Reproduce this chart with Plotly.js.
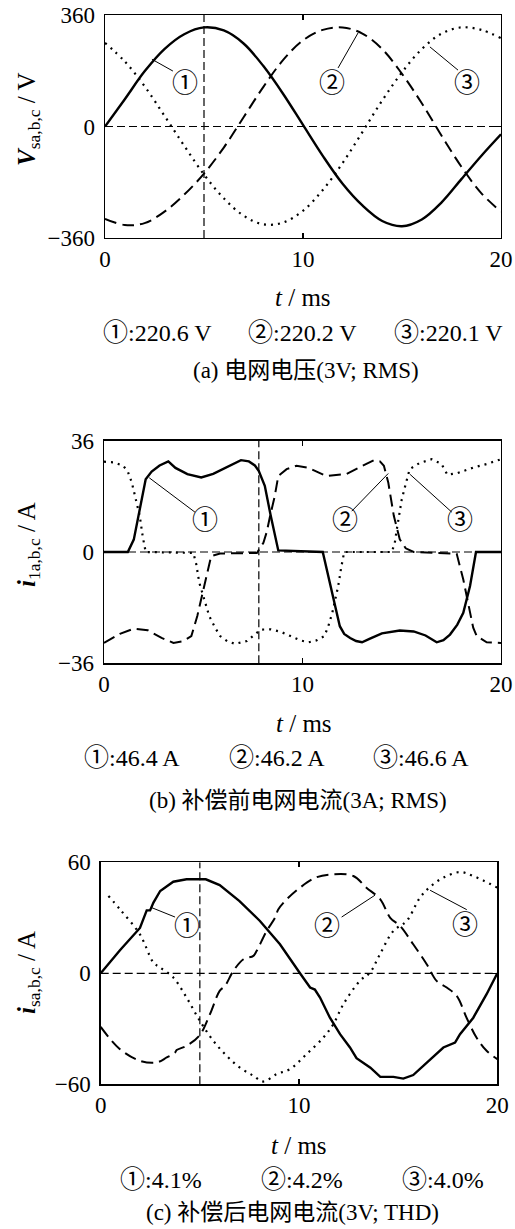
<!DOCTYPE html>
<html>
<head>
<meta charset="utf-8">
<script src="https://cdn.plot.ly/plotly-3.0.1.min.js"></script>
<style>html,body{margin:0;padding:0;background:#fff;}#chart{width:515px;height:1229px;}</style>
</head>
<body>
<div id="chart"></div>
<script>
// ---------- Panel (a): grid voltage ----------
const tA = [0,1,2,3,4,5,6,7,8,9,10,11,12,13,14,15,16,17,18,19,20];
const vA1 = [0,88,178,250,298,320,310,268,195,105,5,-95,-185,-255,-305,-322,-300,-245,-170,-95,-25];
const vA2 = [-298,-318,-312,-275,-220,-152,-68,30,128,215,278,312,320,300,250,170,75,-30,-130,-215,-275];
const vA3 = [270,210,130,35,-62,-155,-232,-288,-316,-310,-272,-205,-118,-18,84,175,250,300,320,312,285];

// ---------- Panel (b): grid current before compensation ----------
const tB1 = [0,1.2,1.5,1.7,1.9,2.1,2.4,2.8,3.24,3.6,4.2,4.9,5.5,6.2,6.9,7.3,7.6,7.8,8.1,8.4,8.78,11.02,11.3,11.55,11.88,12.1,12.4,12.7,13.0,13.4,14.0,14.9,15.6,16.2,16.76,17.1,17.43,17.8,18.1,18.44,18.74,20];
const iB1 = [0,0,4,10.6,17,23.5,26,28,29.3,27.2,25.2,24.1,25.3,27.6,29.7,29.3,28.0,26.2,21.4,11.7,0.5,0,-8,-15.3,-24,-26.5,-27.8,-28.8,-29.2,-28,-26.3,-25.4,-25.7,-27,-29.2,-28.5,-26.7,-23.5,-19.7,-11,0,0];
const tB2 = [0,0.8,1.5,2.2,2.9,3.5,4.0,4.4,4.7,5.0,5.4,5.85,7.7,8.03,8.2,8.37,8.6,8.78,9.2,9.7,10.3,11.2,12.2,13.0,13.6,13.9,14.1,14.32,14.45,14.6,14.9,15.2,15.6,17.77,18.1,18.44,18.6,18.78,19.28,20];
const iB2 = [-29.4,-26.5,-24.8,-25.3,-27.8,-29.4,-28.8,-27.2,-20.7,-12.1,-1.3,-0.5,-0.3,3,6.5,11.7,18,24.6,26.8,27.9,27.2,24.6,25.2,27.8,29.7,29.3,27.9,22.5,17,11.7,4.1,1.2,0,-0.6,-8.9,-19.7,-24.5,-27.2,-29.2,-29.4];
const tB3 = [0,0.5,0.97,1.2,1.4,1.6,1.8,1.95,2.1,4.5,4.65,4.8,5.05,5.3,5.6,5.85,6.2,6.6,7.2,7.9,8.4,8.9,9.4,9.9,10.3,10.7,11.1,11.3,11.5,11.65,11.8,11.95,12.1,14.5,14.65,14.75,14.9,15.0,15.2,15.4,15.9,16.5,17.0,17.3,17.8,18.6,19.3,20];
const iB3 = [29.2,29.0,27.9,26,22.5,17,11.7,5,0,-0.3,-4,-9.9,-15,-20.7,-24.5,-27.2,-28.8,-29.7,-28.8,-25.1,-25,-25.8,-27.2,-28.6,-29.2,-28.6,-27.2,-24,-19.7,-15,-11,-5,0,0,3,7.3,12.5,17,22,26.8,28.8,30,28.5,25,25.5,27.3,28.5,30];

// ---------- Panel (c): grid current after compensation ----------
const tC1 = [0,0.97,1.98,2.32,2.49,2.66,3.0,3.66,4.33,5.3,6.0,7.0,8.03,9.04,10.05,10.56,10.8,11.06,11.56,12.07,12.57,12.9,13.6,14.1,14.76,15.26,15.76,16.27,16.77,17.28,17.87,18.12,18.79,19.46,20];
const iC1 = [0,12.5,24.5,34,34,38.2,44.5,49.5,50.8,50.8,47.7,39,28.3,15.7,0,-7.7,-8.8,-13.1,-24,-32.9,-40.1,-45.9,-51,-56,-56,-56.9,-55,-50,-44.6,-40.1,-37.4,-32.9,-24,-11.3,0];
const tC2 = [0,0.97,1.98,2.82,3.33,3.75,3.83,4.33,4.97,5.51,6.0,6.27,6.69,7.2,7.7,7.86,8.37,8.79,8.96,9.38,10.05,10.9,11.73,12.74,13.4,14.1,14.6,15.1,15.76,16.44,16.94,17.45,17.95,18.45,18.95,19.46,20];
const iC2 = [-29,-41,-47.3,-48.2,-45.5,-42.8,-41.5,-39.2,-33.8,-22.1,-9.5,-6.8,1.3,7.6,9.4,12,22.9,30,34.6,40,46.3,52,53.5,52.6,46.3,40,30,25.6,15.7,4.9,-4.1,-7.7,-12.2,-24,-34.7,-41.9,-46.4];
const tC3 = [0.39,0.97,1.98,2.66,3.0,3.66,4.33,5.0,5.68,6.35,7.02,7.7,8.2,8.87,9.54,10.38,11.23,11.73,12.24,13.07,13.58,14.08,14.76,15.43,16.1,16.6,17.28,18.12,18.79,20];
const iC3 = [41.8,34.6,21,5.8,3.1,-2.3,-13.1,-25.7,-36.5,-44.6,-51,-55.4,-58.5,-54.5,-51.8,-43.7,-34.7,-27.5,-16.7,-4.1,0.4,10.3,22.9,28.3,40.9,46.6,51.7,54.7,52.6,46.3];

// ---------- Labels ----------
const xTicks = [0,10,20];
const yRanges = [[-360,360],[-36,36],[-60,60]];
const cursorT = [5,7.8,5];
const yTitles = ['<b><i>V</i></b><sub>sa,b,c</sub> / V','<b><i>i</i></b><sub>1a,b,c</sub> / A','<b><i>i</i></b><sub>sa,b,c</sub> / A'];
const xTitle = '<i>t</i> / ms';
const marks = ['①','②','③'];
const valuesA = ['220.6 V','220.2 V','220.1 V'];
const valuesB = ['46.4 A','46.2 A','46.6 A'];
const valuesC = ['4.1%','4.2%','4.0%'];
const captions = ['(a) 电网电压(3V; RMS)','(b) 补偿前电网电流(3A; RMS)','(c) 补偿后电网电流(3V; THD)'];

// label anchor points [t, value] for circle text and leader lines per panel
const labA = [[4.04,150,2.37,217,3.43,179],[11.46,150,12.78,302,11.77,189],[18.28,150,16.41,257,17.83,182]];
const labB = [[5.09,11.1,2.28,24.0,4.58,12.9],[12.14,11.2,14.32,25.4,12.48,13.2],[17.93,11.2,15.42,25.1,17.52,12.9]];
const labC = [[4.34,26.9,2.57,35.5,3.75,30.4],[11.40,27,13.83,42.2,12.15,30.4],[18.37,27.7,16.61,44.9,18.46,34.4]];

// ---------- Build ----------
const W = 515, H = 1229;
const px = x => x / W;
const py = y => 1 - y / H;
const FONT = 'Liberation Serif, Noto Sans CJK SC, serif';
const MARKFONT = 'Noto Sans CJK SC, DejaVu Sans, sans-serif';

const styles = [
  {color:'black', width:2.4, dash:'solid'},
  {color:'black', width:2, dash:'12px,6px'},
  {color:'black', width:2.2, dash:'2px,5px'}
];

function tr(x, y, i, ax, shape) {
  return {x:x, y:y, type:'scatter', mode:'lines', line:Object.assign({shape: shape||'linear'}, styles[i]),
    xaxis:'x'+(ax===1?'':ax), yaxis:'y'+(ax===1?'':ax), hoverinfo:'skip'};
}

const data = [
  tr(tA, vA1, 0, 1, 'spline'), tr(tA, vA2, 1, 1, 'spline'), tr(tA, vA3, 2, 1, 'spline'),
  tr(tB1, iB1, 0, 2), tr(tB2, iB2, 1, 2), tr(tB3, iB3, 2, 2),
  tr(tC1, iC1, 0, 3), tr(tC2, iC2, 1, 3, 'spline'), tr(tC3, iC3, 2, 3, 'spline')
];

// panel geometry in pixels: [left, right, top, bottom]
const geo = [[105,501,15,238],[104,501,440.7,663.3],[100.7,497.3,862.3,1084.3]];

const layout = {
  width: W, height: H,
  margin: {l:0, r:0, t:0, b:0},
  paper_bgcolor: 'white', plot_bgcolor: 'white',
  showlegend: false,
  font: {family: FONT, size: 23, color: 'black'},
  shapes: [], annotations: []
};

geo.forEach((g, k) => {
  const n = k + 1;
  const xs = n === 1 ? '' : String(n);
  layout['xaxis' + xs] = {
    domain: [px(g[0]), px(g[1])], anchor: 'y' + xs, range: [0, 20],
    tickvals: xTicks, ticktext: xTicks.map(String),
    showline: true, linecolor: 'black', linewidth: 1.4, mirror: 'ticks',
    ticks: 'inside', ticklen: 5, tickwidth: 1.2, tickcolor: 'black',
    showgrid: false, zeroline: false, fixedrange: true,
    tickfont: {family: FONT, size: 23, color: 'black'}
  };
  const r = yRanges[k];
  layout['yaxis' + xs] = {
    domain: [py(g[3]), py(g[2])], anchor: 'x' + xs, range: r,
    tickvals: [r[0], 0, r[1]],
    showline: true, linecolor: 'black', linewidth: 1.4, mirror: 'ticks',
    ticks: 'inside', ticklen: 5, tickwidth: 1.2, tickcolor: 'black',
    showgrid: false, zeroline: false, fixedrange: true, ticklabelstandoff: 4,
    tickfont: {family: FONT, size: 23, color: 'black'}
  };
  // dashed zero line and vertical cursor
  layout.shapes.push({type:'line', xref:'x'+xs, yref:'y'+xs, x0:0, x1:20, y0:0, y1:0,
    line:{color:'black', width:1.2, dash:'8px,4px'}});
  layout.shapes.push({type:'line', xref:'x'+xs, yref:'y'+xs, x0:cursorT[k], x1:cursorT[k], y0:r[0], y1:r[1],
    line:{color:'black', width:1.2, dash:'8px,4px'}});
  // circled labels + leader lines
  const lab = [labA, labB, labC][k];
  lab.forEach((L, i) => {
    layout.annotations.push({xref:'x'+xs, yref:'y'+xs, x:L[0], y:L[1], text:marks[i], showarrow:false,
      font:{family: MARKFONT, size: 26, color:'black'}, xanchor:'center', yanchor:'middle'});
    layout.shapes.push({type:'line', xref:'x'+xs, yref:'y'+xs, x0:L[2], y0:L[3], x1:L[4], y1:L[5],
      line:{color:'black', width:1}});
  });
});

// y titles
const yTitleY = [119, 545, 973];
yTitleY.forEach((y, k) => {
  layout.annotations.push({xref:'paper', yref:'paper', x:px(28), y:py(y), text:yTitles[k], textangle:-90,
    showarrow:false, xanchor:'center', yanchor:'middle', font:{family: FONT, size: 25, color:'black'}});
});
// x titles
[[303,297],[304,723],[299,1145]].forEach(p => {
  layout.annotations.push({xref:'paper', yref:'paper', x:px(p[0]), y:py(p[1]), text:xTitle,
    showarrow:false, xanchor:'center', yanchor:'middle', font:{family: FONT, size: 25, color:'black'}});
});
// value lines
const valRows = [[valuesA,[157,302,448],330],[valuesB,[132,277,421],755],[valuesC,[161,302,443],1177]];
valRows.forEach(row => {
  row[0].forEach((t, i) => {
    const txt = '<span style="font-family:Noto Sans CJK SC;font-size:25px">' + marks[i] + '</span>:' + t;
    layout.annotations.push({xref:'paper', yref:'paper', x:px(row[1][i]), y:py(row[2]), text:txt,
      showarrow:false, xanchor:'center', yanchor:'middle', font:{family: FONT, size: 24, color:'black'}});
  });
});
// captions
[[306,370],[297.5,800],[292,1212]].forEach((p, k) => {
  layout.annotations.push({xref:'paper', yref:'paper', x:px(p[0]), y:py(p[1]), text:captions[k],
    showarrow:false, xanchor:'center', yanchor:'middle', font:{family: FONT, size: 23, color:'black'}});
});

Plotly.newPlot('chart', data, layout, {staticPlot: true, displayModeBar: false});
</script>
</body>
</html>
